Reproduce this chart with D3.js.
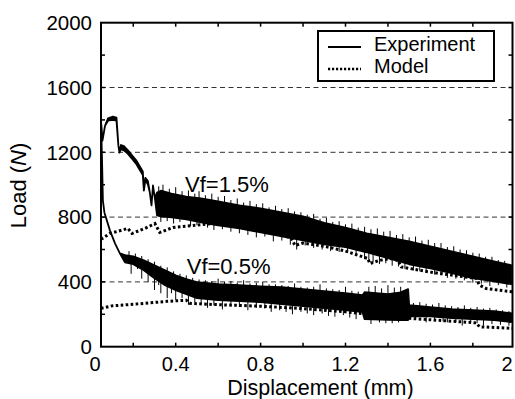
<!DOCTYPE html>
<html>
<head>
<meta charset="utf-8">
<script src="https://cdn.jsdelivr.net/npm/d3@7"></script>
<style>
  body { margin: 0; background: #fff; }
  text { font-family: "Liberation Sans", Arial, Helvetica, sans-serif; fill: #000; }
</style>
</head>
<body>
<div id="chart"></div>
<script>

// --> DATA
// experiment curves: [displacement, lower load, upper load]
var expHigh = [
  [0.048, 1395, 1395], [0.055, 1272, 1272], [0.067, 1364, 1364], [0.081, 1395, 1410],
  [0.104, 1400, 1420], [0.121, 1395, 1414], [0.130, 1241, 1241], [0.135, 1198, 1198],
  [0.142, 1220, 1245], [0.156, 1212, 1238], [0.175, 1190, 1212], [0.194, 1160, 1182],
  [0.213, 1130, 1152], [0.231, 1090, 1112], [0.245, 1060, 1082], [0.250, 964, 964],
  [0.257, 1028, 1042], [0.269, 1002, 1022], [0.278, 952, 952], [0.286, 872, 872],
  [0.293, 995, 995], [0.302, 915, 915], [0.312, 810, 952],
  [0.33, 804, 963], [0.38, 798, 945], [0.45, 786, 927], [0.52, 767, 915],
  [0.60, 749, 897], [0.70, 730, 872], [0.80, 706, 854], [0.90, 681, 829],
  [1.00, 657, 804], [1.10, 632, 765], [1.20, 614, 735], [1.30, 583, 700],
  [1.40, 546, 675], [1.50, 509, 650], [1.60, 484, 620], [1.70, 454, 589],
  [1.80, 423, 558], [1.90, 404, 527], [1.98, 386, 503]
];

var expLow = [
  [0.048, 1407, 1407], [0.053, 1149, 1149], [0.057, 902, 902], [0.064, 829, 829],
  [0.090, 718, 718], [0.114, 638, 638], [0.137, 576, 576], [0.161, 521, 565],
  [0.20, 509, 558], [0.25, 472, 533], [0.30, 423, 503], [0.35, 380, 472],
  [0.40, 349, 441], [0.45, 324, 417], [0.50, 300, 398], [0.60, 287, 386],
  [0.70, 281, 380], [0.80, 275, 373], [0.90, 263, 367], [1.00, 250, 355],
  [1.10, 238, 343], [1.20, 226, 330], [1.28, 214, 318], [1.29, 170, 336],
  [1.40, 166, 324], [1.46, 164, 336], [1.495, 164, 355], [1.50, 188, 256],
  [1.60, 188, 244], [1.70, 176, 232], [1.80, 170, 226], [1.90, 164, 219],
  [1.98, 152, 207]
];

// spike tips of the noisy experiment signal: [displacement, load]
var spikesHigh = [
  [0.32, 990], [0.34, 1000], [0.37, 975], [0.40, 985], [0.43, 960], [0.46, 965],
  [0.49, 945], [0.51, 960], [0.54, 935], [0.57, 945], [0.60, 925], [0.63, 930],
  [0.66, 905], [0.69, 915], [0.72, 890], [0.75, 900], [0.78, 880], [0.81, 885],
  [0.84, 860], [0.87, 870], [0.90, 850], [0.93, 855], [0.96, 835], [0.99, 830],
  [1.02, 815], [1.05, 820], [1.08, 790], [1.11, 795], [1.14, 770], [1.17, 775],
  [1.20, 755], [1.23, 760], [1.26, 735], [1.29, 740], [1.32, 725], [1.35, 730],
  [1.38, 710], [1.41, 715], [1.44, 690], [1.47, 695], [1.50, 675], [1.53, 680],
  [1.56, 655], [1.59, 660], [1.62, 640], [1.65, 640], [1.68, 615], [1.71, 620],
  [1.74, 600], [1.77, 595], [1.80, 580], [1.83, 575], [1.86, 555], [1.89, 555],
  [1.92, 535], [1.95, 530],
  [0.33, 770], [0.36, 775], [0.39, 760], [0.42, 770], [0.47, 745], [0.50, 750],
  [0.55, 735], [0.58, 720], [0.62, 725], [0.66, 710], [0.70, 700], [0.74, 690],
  [0.78, 675], [0.82, 680], [0.86, 650], [0.90, 655], [0.94, 630], [0.97, 600],
  [1.01, 625], [1.05, 610], [1.09, 600], [1.13, 590], [1.17, 585], [1.21, 580],
  [1.25, 570], [1.29, 540], [1.31, 525], [1.33, 520], [1.36, 510], [1.39, 515],
  [1.42, 500], [1.45, 495], [1.48, 480], [1.52, 470], [1.55, 465], [1.58, 455],
  [1.62, 445], [1.65, 440], [1.68, 425], [1.72, 420], [1.76, 410], [1.80, 395],
  [1.84, 390], [1.88, 375], [1.92, 380], [1.96, 365]
];

var spikesLow = [
  [0.18, 590], [0.21, 575], [0.24, 560], [0.27, 540], [0.30, 525], [0.33, 500],
  [0.36, 490], [0.39, 465], [0.42, 450], [0.45, 440], [0.48, 425], [0.51, 415],
  [0.54, 410], [0.57, 405], [0.60, 420], [0.63, 400], [0.66, 405], [0.69, 395],
  [0.72, 410], [0.75, 390], [0.78, 395], [0.81, 400], [0.84, 385], [0.87, 385],
  [0.90, 380], [0.93, 375], [0.96, 390], [0.99, 370], [1.02, 365], [1.05, 370],
  [1.08, 385], [1.11, 360], [1.14, 355], [1.17, 350], [1.20, 370], [1.23, 345],
  [1.26, 340], [1.31, 370], [1.34, 375], [1.37, 360], [1.40, 380], [1.43, 365],
  [1.46, 370], [1.52, 270], [1.55, 275], [1.58, 265], [1.61, 260], [1.64, 270],
  [1.67, 255], [1.70, 250], [1.73, 245], [1.76, 255], [1.79, 240], [1.82, 245],
  [1.85, 235], [1.88, 240], [1.91, 230], [1.94, 225], [1.97, 220],
  [0.19, 450], [0.22, 480], [0.24, 420], [0.27, 400], [0.30, 350], [0.32, 380],
  [0.33, 330], [0.36, 300], [0.38, 330], [0.40, 290], [0.43, 300], [0.46, 260],
  [0.49, 275], [0.52, 265], [0.55, 240], [0.58, 255], [0.62, 230], [0.66, 250],
  [0.70, 245], [0.74, 225], [0.78, 240], [0.82, 235], [0.85, 215], [0.89, 225],
  [0.92, 215], [0.95, 200], [0.99, 215], [1.02, 205], [1.05, 195], [1.09, 205],
  [1.12, 190], [1.15, 185], [1.19, 195], [1.22, 180], [1.25, 170], [1.32, 140],
  [1.36, 150], [1.39, 145], [1.42, 145], [1.45, 150], [1.53, 165], [1.58, 150],
  [1.62, 160], [1.66, 155], [1.68, 150], [1.72, 150], [1.75, 130], [1.79, 150],
  [1.82, 145], [1.85, 130], [1.89, 140], [1.93, 135], [1.97, 130]
];

// model curves: [displacement, load]
var modelHigh = [
  [0.048, 663], [0.09, 699], [0.175, 730], [0.194, 699], [0.255, 730], [0.302, 760],
  [0.325, 705], [0.387, 736], [0.481, 748], [0.575, 760], [0.70, 745], [0.80, 718],
  [0.90, 688], [0.945, 670], [0.962, 625], [1.00, 640], [1.10, 620], [1.20, 590],
  [1.306, 544], [1.314, 513], [1.361, 533], [1.416, 544], [1.447, 533], [1.463, 492],
  [1.596, 461], [1.816, 421], [1.831, 380], [1.863, 359], [1.99, 338]
];

var modelLow = [
  [0.048, 237], [0.10, 252], [0.23, 265], [0.36, 280], [0.45, 287], [0.465, 268],
  [0.55, 262], [0.67, 256], [0.80, 250], [1.00, 235], [1.20, 215], [1.40, 188],
  [1.50, 175], [1.816, 147], [1.831, 123], [1.99, 113]
];

var xTickValues = [0.2, 0.4, 0.6, 0.8, 1.0, 1.2, 1.4, 1.6, 1.8];
var xLabelValues = [0, 0.4, 0.8, 1.2, 1.6, 2];
var yTickValues = [200, 400, 600, 800, 1000, 1200, 1400, 1600, 1800];
var yLabelValues = [0, 400, 800, 1200, 1600, 2000];
var gridValues = [400, 800, 1200, 1600];

var curveLabels = [
  {text: "Vf=1.5%", x: 0.444, y: 957},
  {text: "Vf=0.5%", x: 0.452, y: 447}
];

// --> SVG DRAWING AREA
var width = 515,
    height = 399;

var frame = {left: 101, right: 512.5, top: 22.7, bottom: 346.7};

var svg = d3.select("#chart").append("svg")
    .attr("width", width)
    .attr("height", height);

var x = d3.scaleLinear().domain([0, 2]).range([90.8, 515.3]);
var y = d3.scaleLinear().domain([0, 2000]).range([frame.bottom, frame.top]);

svg.append("clipPath")
    .attr("id", "plot-clip")
  .append("rect")
    .attr("x", frame.left)
    .attr("y", frame.top)
    .attr("width", frame.right - frame.left)
    .attr("height", frame.bottom - frame.top);

// Gridlines
svg.selectAll(".grid")
    .data(gridValues)
  .enter().append("line")
    .attr("class", "grid")
    .attr("x1", frame.left)
    .attr("x2", frame.right)
    .attr("y1", function(d) { return y(d); })
    .attr("y2", function(d) { return y(d); })
    .attr("stroke", "#333")
    .attr("stroke-width", 1)
    .attr("stroke-dasharray", "5,3.5");

var plot = svg.append("g").attr("clip-path", "url(#plot-clip)");

// Experiment bands
var band = d3.area()
    .x(function(d) { return x(d[0]); })
    .y0(function(d) { return y(d[1]); })
    .y1(function(d) { return y(d[2]); });

[expHigh, expLow].forEach(function(series) {
  plot.append("path")
      .datum(series)
      .attr("d", band)
      .attr("fill", "#000")
      .attr("stroke", "#000")
      .attr("stroke-width", 1.8)
      .attr("stroke-linejoin", "round");
});

// middle of a band at a given displacement (for spike roots)
function bandMid(series, xv) {
  var i = d3.bisector(function(d) { return d[0]; }).left(series, xv);
  i = Math.max(1, Math.min(series.length - 1, i));
  var a = series[i - 1], b = series[i];
  var t = (xv - a[0]) / (b[0] - a[0]);
  return ((a[1] + a[2]) / 2) * (1 - t) + ((b[1] + b[2]) / 2) * t;
}

[[spikesHigh, expHigh], [spikesLow, expLow]].forEach(function(pair) {
  plot.selectAll(null)
      .data(pair[0])
    .enter().append("line")
      .attr("x1", function(d) { return x(d[0]); })
      .attr("x2", function(d) { return x(d[0]); })
      .attr("y1", function(d) { return y(bandMid(pair[1], d[0])); })
      .attr("y2", function(d) { return y(d[1]); })
      .attr("stroke", "#000")
      .attr("stroke-width", 1);
});

// Model curves
var line = d3.line()
    .x(function(d) { return x(d[0]); })
    .y(function(d) { return y(d[1]); });

[modelHigh, modelLow].forEach(function(series) {
  plot.append("path")
      .datum(series)
      .attr("d", line)
      .attr("fill", "none")
      .attr("stroke", "#000")
      .attr("stroke-width", 3)
      .attr("stroke-dasharray", "2.6,2.4");
});

// Frame
svg.append("rect")
    .attr("x", frame.left)
    .attr("y", frame.top)
    .attr("width", frame.right - frame.left)
    .attr("height", frame.bottom - frame.top)
    .attr("fill", "none")
    .attr("stroke", "#000")
    .attr("stroke-width", 2);

// Inward ticks on all four sides
var tickLen = 4;
[frame.bottom, frame.top].forEach(function(yy) {
  var dir = yy == frame.bottom ? -1 : 1;
  svg.selectAll(null)
      .data(xTickValues)
    .enter().append("line")
      .attr("x1", function(d) { return x(d); })
      .attr("x2", function(d) { return x(d); })
      .attr("y1", yy)
      .attr("y2", yy + dir * tickLen)
      .attr("stroke", "#000")
      .attr("stroke-width", 1.5);
});
[frame.left, frame.right].forEach(function(xx) {
  var dir = xx == frame.left ? 1 : -1;
  svg.selectAll(null)
      .data(yTickValues)
    .enter().append("line")
      .attr("x1", xx)
      .attr("x2", xx + dir * tickLen)
      .attr("y1", function(d) { return y(d); })
      .attr("y2", function(d) { return y(d); })
      .attr("stroke", "#000")
      .attr("stroke-width", 1.5);
});

// Tick labels
svg.selectAll(".x-label")
    .data(xLabelValues)
  .enter().append("text")
    .attr("class", "x-label")
    .attr("x", function(d) { return Math.min(Math.max(x(d), 95), 507); })
    .attr("y", 370.5)
    .attr("text-anchor", "middle")
    .style("font-size", "20px")
    .text(function(d) { return d; });

svg.selectAll(".y-label")
    .data(yLabelValues)
  .enter().append("text")
    .attr("class", "y-label")
    .attr("x", 92)
    .attr("y", function(d) { return y(d) + 7.3; })
    .attr("text-anchor", "end")
    .style("font-size", "20.5px")
    .text(function(d) { return d; });

// Axis titles
svg.append("text")
    .attr("x", 320.5)
    .attr("y", 394.5)
    .attr("text-anchor", "middle")
    .style("font-size", "21.5px")
    .text("Displacement (mm)");

var yTitle = svg.append("text")
    .attr("transform", "translate(25.5,185.5) rotate(-90)")
    .attr("text-anchor", "middle")
    .style("font-size", "22px");
yTitle.append("tspan").text("Load (");
yTitle.append("tspan").style("font-style", "italic").text("N");
yTitle.append("tspan").text(")");

// Curve labels
svg.selectAll(".curve-label")
    .data(curveLabels)
  .enter().append("text")
    .attr("class", "curve-label")
    .attr("x", function(d) { return x(d.x); })
    .attr("y", function(d) { return y(d.y); })
    .style("font-size", "22px")
    .text(function(d) { return d.text; });

// Legend
var legend = svg.append("g").attr("transform", "translate(318,31)");

legend.append("rect")
    .attr("width", 176)
    .attr("height", 50)
    .attr("fill", "#fff")
    .attr("stroke", "#000")
    .attr("stroke-width", 2);

legend.append("line")
    .attr("x1", 10).attr("x2", 43)
    .attr("y1", 16).attr("y2", 16)
    .attr("stroke", "#000")
    .attr("stroke-width", 2);

legend.append("line")
    .attr("x1", 10).attr("x2", 43)
    .attr("y1", 38).attr("y2", 38)
    .attr("stroke", "#000")
    .attr("stroke-width", 2.6)
    .attr("stroke-dasharray", "2.2,1.8");

legend.append("text")
    .attr("x", 56).attr("y", 19.5)
    .style("font-size", "20px")
    .text("Experiment");

legend.append("text")
    .attr("x", 56).attr("y", 41.5)
    .style("font-size", "20px")
    .text("Model");

</script>
</body>
</html>
